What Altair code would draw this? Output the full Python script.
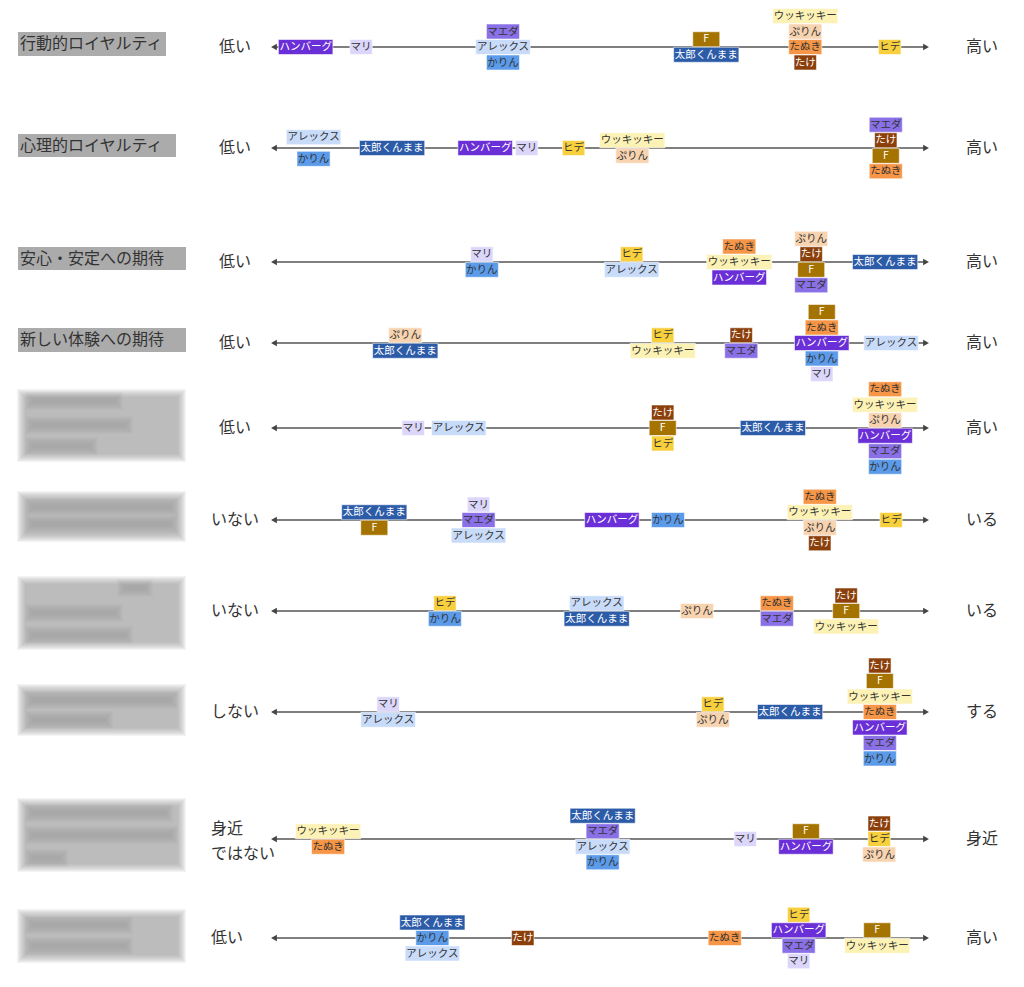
import altair as alt
import pandas as pd

FONT = "Noto Sans CJK JP"

# ---------------- data ----------------
row_titles = ["行動的ロイヤルティ", "心理的ロイヤルティ", "安心・安定への期待", "新しい体験への期待"]
left_labels = ["低い", "低い", "低い", "低い", "低い", "いない", "いない", "しない", "身近", "低い"]
left_second = "ではない"
right_labels = ["高い", "高い", "高い", "高い", "高い", "いる", "いる", "する", "身近", "高い"]

r1_names = ["ハンバーグ", "マリ", "マエダ", "アレックス", "かりん", "F", "太郎くんまま", "ウッキッキー", "ぷりん", "たぬき", "たけ", "ヒデ"]
r1_pos = [5.4, 13.8, 35.3, 35.3, 35.3, 66.1, 66.1, 81.1, 81.1, 81.1, 81.1, 93.9]
r1_stack = [0, 0, -1, 0, 1, -0.5, 0.5, -2, -1, 0, 1, 0]

r2_names = ["アレックス", "かりん", "太郎くんまま", "ハンバーグ", "マリ", "ヒデ", "ウッキッキー", "ぷりん", "マエダ", "たけ", "F", "たぬき"]
r2_pos = [6.6, 6.6, 18.5, 32.6, 38.9, 46.0, 54.9, 54.9, 93.3, 93.3, 93.3, 93.3]
r2_stack = [-0.7, 0.7, 0, 0, 0, 0, -0.5, 0.5, -1.5, -0.5, 0.5, 1.5]

r3_names = ["マリ", "かりん", "ヒデ", "アレックス", "たぬき", "ウッキッキー", "ハンバーグ", "ぷりん", "たけ", "F", "マエダ", "太郎くんまま"]
r3_pos = [32.1, 32.1, 54.8, 54.8, 71.1, 71.1, 71.1, 82.0, 82.0, 82.0, 82.0, 93.2]
r3_stack = [-0.5, 0.5, -0.5, 0.5, -1, 0, 1, -1.5, -0.5, 0.5, 1.5, 0]

r4_names = ["ぷりん", "太郎くんまま", "ヒデ", "ウッキッキー", "たけ", "マエダ", "F", "たぬき", "ハンバーグ", "かりん", "マリ", "アレックス"]
r4_pos = [20.5, 20.5, 59.5, 59.5, 71.4, 71.4, 83.6, 83.6, 83.6, 83.6, 83.6, 94.1]
r4_stack = [-0.5, 0.5, -0.5, 0.5, -0.5, 0.5, -2, -1, 0, 1, 2, 0]

r5_names = ["マリ", "アレックス", "たけ", "F", "ヒデ", "太郎くんまま", "たぬき", "ウッキッキー", "ぷりん", "ハンバーグ", "マエダ", "かりん"]
r5_pos = [21.7, 28.6, 59.5, 59.5, 59.5, 76.2, 93.2, 93.2, 93.2, 93.2, 93.2, 93.2]
r5_stack = [0, 0, -1, 0, 1, 0, -2.5, -1.5, -0.5, 0.5, 1.5, 2.5]

r6_names = ["太郎くんまま", "F", "マリ", "マエダ", "アレックス", "ハンバーグ", "かりん", "たぬき", "ウッキッキー", "ぷりん", "たけ", "ヒデ"]
r6_pos = [15.8, 15.8, 31.6, 31.6, 31.6, 51.8, 60.3, 83.3, 83.3, 83.3, 83.3, 94.1]
r6_stack = [-0.5, 0.5, -1, 0, 1, 0, 0, -1.5, -0.5, 0.5, 1.5, 0]

r7_names = ["ヒデ", "かりん", "アレックス", "太郎くんまま", "ぷりん", "たぬき", "マエダ", "たけ", "F", "ウッキッキー"]
r7_pos = [26.5, 26.5, 49.5, 49.5, 64.7, 76.8, 76.8, 87.3, 87.3, 87.3]
r7_stack = [-0.5, 0.5, -0.5, 0.5, 0, -0.5, 0.5, -1, 0, 1]

r8_names = ["マリ", "アレックス", "ヒデ", "ぷりん", "太郎くんまま", "たけ", "F", "ウッキッキー", "たぬき", "ハンバーグ", "マエダ", "かりん"]
r8_pos = [17.9, 17.9, 67.1, 67.1, 78.8, 92.4, 92.4, 92.4, 92.4, 92.4, 92.4, 92.4]
r8_stack = [-0.5, 0.5, -0.5, 0.5, 0, -3, -2, -1, 0, 1, 2, 3]

r9_names = ["ウッキッキー", "たぬき", "太郎くんまま", "マエダ", "アレックス", "かりん", "マリ", "F", "ハンバーグ", "たけ", "ヒデ", "ぷりん"]
r9_pos = [8.8, 8.8, 50.4, 50.4, 50.4, 50.4, 72.0, 81.2, 81.2, 92.3, 92.3, 92.3]
r9_stack = [-0.5, 0.5, -1.5, -0.5, 0.5, 1.5, 0, -0.5, 0.5, -1, 0, 1]

r10_names = ["太郎くんまま", "かりん", "アレックス", "たけ", "たぬき", "ヒデ", "ハンバーグ", "マエダ", "マリ", "F", "ウッキッキー"]
r10_pos = [24.6, 24.6, 24.6, 38.3, 68.9, 80.1, 80.1, 80.1, 80.1, 92.0, 92.0]
r10_stack = [-1, 0, 1, 0, 0, -1.5, -0.5, 0.5, 1.5, -0.5, 0.5]

# ---------------- styles / layout ----------------
fill_colors = {
    "ハンバーグ": "#6a2fd6", "マリ": "#dcd6fa", "マエダ": "#8a70e6", "アレックス": "#c8dbf9",
    "かりん": "#5b9be9", "太郎くんまま": "#2c5ba8", "F": "#a57300", "ウッキッキー": "#fdf2b5",
    "ぷりん": "#f8d3b0", "たぬき": "#f79646", "たけ": "#8b400c", "ヒデ": "#f8cf3c",
}
light_text = {"ハンバーグ", "太郎くんまま", "F", "たけ"}

row_y = [47, 148, 262, 343, 428, 520, 611, 712, 839, 938]   # screen px of each axis line
title_box = [(18, 166, 32, 56), (18, 176, 134, 157), (18, 186, 247, 270), (18, 186, 328, 352)]
blur_box = [(22, 181, 394, 457), (22, 181, 496, 537), (22, 181, 581, 645),
            (22, 181, 689, 731), (22, 181, 803, 867), (22, 181, 914, 958)]
smudges = [(28, 120, 401), (28, 130, 425), (28, 95, 446),
           (28, 175, 507), (28, 175, 524),
           (120, 150, 588), (28, 120, 613), (28, 130, 635),
           (28, 175, 700), (28, 110, 720),
           (28, 170, 813), (28, 175, 835), (28, 65, 858),
           (28, 130, 925), (28, 130, 946)]

PX0, PX1 = 270, 930            # screen px of axis ends
UNIT = (PX1 - PX0) / 100.0
W, H = 1000, 965
XDOM = [(8 - PX0) / UNIT, (8 + W - PX0) / UNIT]
YDOM = [8, 8 + H]
STEP = 15.5
BOXH = 15

xs = alt.Scale(domain=XDOM, nice=False, zero=False)
ys = alt.Scale(domain=YDOM, reverse=True, nice=False, zero=False)

all_rows = [
    (r1_names, r1_pos, r1_stack), (r2_names, r2_pos, r2_stack), (r3_names, r3_pos, r3_stack),
    (r4_names, r4_pos, r4_stack), (r5_names, r5_pos, r5_stack), (r6_names, r6_pos, r6_stack),
    (r7_names, r7_pos, r7_stack), (r8_names, r8_pos, r8_stack), (r9_names, r9_pos, r9_stack),
    (r10_names, r10_pos, r10_stack),
]

recs = []
for i, (names, pos, stack) in enumerate(all_rows):
    for n, p, s in zip(names, pos, stack):
        wpx = 27 if n == "F" else 10.7 * len(n) + 1
        hw = wpx / 2 / UNIT
        yc = row_y[i] + s * STEP
        recs.append(dict(row=i, name=n, pos=p, x1=p - hw, x2=p + hw, yc=yc,
                         y1=yc - BOXH / 2, y2=yc + BOXH / 2,
                         fill=fill_colors[n], tcol="#ffffff" if n in light_text else "#333333"))
items = pd.DataFrame(recs)

lines = pd.DataFrame(dict(y=row_y, a=[0.6] * 10, b=[99.4] * 10))
heads = pd.DataFrame(dict(y=row_y * 2, x=[0.6] * 10 + [99.4] * 10,
                          shape=["triangle-left"] * 10 + ["triangle-right"] * 10))

def px2v(px):
    return (px - PX0) / UNIT

tb = pd.DataFrame([dict(x1=px2v(a), x2=px2v(b), y1=c, y2=d, t=t, xt=px2v(a + 2), yt=(c + d) / 2)
                   for (a, b, c, d), t in zip(title_box, row_titles)])

blur_recs = []
for (a, b, c, d) in blur_box:
    for k in range(-3, 6):
        blur_recs.append(dict(x1=px2v(a - k), x2=px2v(b + k), y1=c - k, y2=d + k))
smudge_recs = []
for (a, b, yc) in smudges:
    for k in range(-3, 5):
        smudge_recs.append(dict(x1=px2v(a + k), x2=px2v(b - k), y1=yc - 6 + k, y2=yc + 6 - k))
blur = pd.DataFrame(blur_recs)
smudge = pd.DataFrame(smudge_recs)

lab = pd.DataFrame(dict(y=row_y, l=left_labels, r=right_labels))
lab_c = lab.iloc[:8].copy()
lab_l = pd.DataFrame(dict(y=[829, 854, 938], l=[left_labels[8], left_second, left_labels[9]]))
lab_c["x"] = px2v(235)
lab_l["x"] = px2v(211)
lab["xr"] = px2v(982)

# ---------------- layers ----------------
X = lambda f: alt.X(f, type="quantitative", scale=xs, axis=None)
Y = lambda f: alt.Y(f, type="quantitative", scale=ys, axis=None)

blur_layer = alt.Chart(blur).mark_rect(color="#999999", opacity=0.11).encode(
    x=X("x1"), x2="x2", y=Y("y1"), y2="y2")
smudge_layer = alt.Chart(smudge).mark_rect(color="#888888", opacity=0.05).encode(
    x=X("x1"), x2="x2", y=Y("y1"), y2="y2")

title_rect = alt.Chart(tb).mark_rect(color="#ababab").encode(x=X("x1"), x2="x2", y=Y("y1"), y2="y2")
title_text = alt.Chart(tb).mark_text(align="left", baseline="middle", font=FONT, fontSize=16,
                                     color="#333333").encode(x=X("xt"), y=Y("yt"), text="t:N")

line_layer = alt.Chart(lines).mark_rule(color="#555555", strokeWidth=1.5).encode(
    x=X("a"), x2="b", y=Y("y"))
head_layer = alt.Chart(heads).mark_point(filled=True, size=45, color="#444444", opacity=1).encode(
    x=X("x"), y=Y("y"), shape=alt.Shape("shape:N", scale=None))

box_layer = alt.Chart(items).mark_rect(stroke="#ffffff", strokeWidth=0.8, strokeOpacity=0.7).encode(
    x=X("x1"), x2="x2", y=Y("y1"), y2="y2", color=alt.Color("fill:N", scale=None))
txt_layer = alt.Chart(items).mark_text(baseline="middle", align="center", font=FONT, fontSize=10.5).encode(
    x=X("pos"), y=Y("yc"), text="name:N", color=alt.Color("tcol:N", scale=None))

left_c = alt.Chart(lab_c).mark_text(align="center", baseline="middle", font=FONT, fontSize=16,
                                    color="#333333").encode(x=X("x"), y=Y("y"), text="l:N")
left_l = alt.Chart(lab_l).mark_text(align="left", baseline="middle", font=FONT, fontSize=16,
                                    color="#333333").encode(x=X("x"), y=Y("y"), text="l:N")
right_t = alt.Chart(lab).mark_text(align="center", baseline="middle", font=FONT, fontSize=16,
                                   color="#333333").encode(x=X("xr"), y=Y("y"), text="r:N")

chart = alt.layer(blur_layer, smudge_layer, title_rect, title_text, line_layer, head_layer, box_layer,
                  txt_layer, left_c, left_l, right_t).properties(
    width=W, height=H, padding=0, background="#ffffff",
    autosize=alt.AutoSizeParams(type="fit", contains="padding"),
).configure_view(stroke=None)

chart.save("out.html", embed_options={"renderer": "svg", "actions": False})
